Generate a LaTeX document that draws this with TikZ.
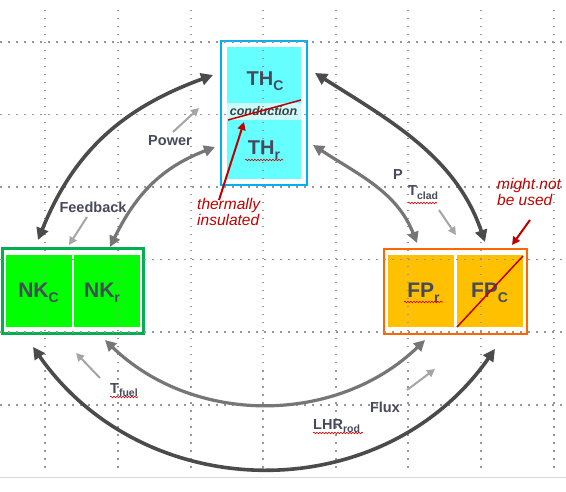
\documentclass[tikz,border=0pt]{standalone}
\usepackage{fontspec}
\setmainfont{Liberation Sans}
\usetikzlibrary{arrows.meta,decorations.pathmorphing}
\definecolor{thblue}{RGB}{0,176,240}
\definecolor{thcyan}{RGB}{102,255,255}
\definecolor{thband}{RGB}{205,252,252}
\definecolor{nkborder}{RGB}{0,176,80}
\definecolor{nkfill}{RGB}{0,255,0}
\definecolor{fpborder}{RGB}{255,102,0}
\definecolor{fpfill}{RGB}{255,192,0}
\definecolor{noteRed}{RGB}{192,0,0}
\definecolor{txt}{RGB}{70,74,90}
\definecolor{arrDark}{RGB}{75,75,75}
\definecolor{arrMid}{RGB}{118,118,118}
\definecolor{arrLight}{RGB}{165,165,165}
\definecolor{gridgray}{RGB}{150,150,150}
\newcommand{\bsub}[1]{\raisebox{-5pt}{\fontsize{14}{14}\selectfont #1}}
\newcommand{\ssub}[1]{\raisebox{-3.5pt}{\fontsize{10.5}{10.5}\selectfont #1}}
\begin{document}
\begin{tikzpicture}[x=1pt,y=-1pt,
  frame/.style={draw, line width=2.5pt, inner sep=0pt, fill=white},
  cell/.style={inner sep=0pt, draw=none},
  big/.style={inner sep=0pt, text=txt, font=\fontsize{21}{21}\selectfont\bfseries, anchor=base},
  lbl/.style={inner sep=0pt, text=txt, font=\fontsize{14.5}{16}\selectfont\bfseries},
  note/.style={inner sep=0pt, text=noteRed, font=\fontsize{15.5}{16}\selectfont\itshape, anchor=base west},
  gridline/.style={draw=gridgray, line width=1.5pt, dash pattern=on 1.5pt off 6.5pt},
  darkarr/.style={draw=arrDark, line width=3.6pt, {Triangle[length=12pt,width=12pt]}-{Triangle[length=12pt,width=12pt]}},
  midarr/.style={draw=arrMid, line width=3.2pt, {Triangle[length=11pt,width=11pt]}-{Triangle[length=11pt,width=11pt]}},
  lightarr/.style={draw=arrLight, line width=2pt, -{Triangle[length=8pt,width=8pt]}},
  redarr/.style={draw=noteRed, line width=2pt, -{Triangle[length=8pt,width=8pt]}},
  squig/.style={draw=red!85!black, line width=0.6pt, decorate, decoration={snake, amplitude=0.8pt, segment length=3pt}}
]
\useasboundingbox (0,0) rectangle (566,492);
\fill[white] (0,0) rectangle (566,492);

% ---------- boxes ----------
\node[frame, draw=thblue, minimum width=86pt, minimum height=144pt] (th) at (264,113) {};
\node[cell, fill=thcyan, minimum width=74pt, minimum height=56pt] (thc) at (264,75) {};
\node[cell, fill=thband, minimum width=74pt, minimum height=17pt] (thb) at (264,111.5) {};
\node[cell, fill=thcyan, minimum width=74pt, minimum height=59pt] (thr) at (264,149.5) {};

\node[frame, draw=nkborder, minimum width=141pt, minimum height=85pt] (nk) at (73,291) {};
\node[cell, fill=nkfill, minimum width=66pt, minimum height=72pt] (nkc) at (39,291) {};
\node[cell, fill=nkfill, minimum width=66pt, minimum height=72pt] (nkr) at (107,291) {};

\node[frame, draw=fpborder, minimum width=143pt, minimum height=85pt] (fp) at (455.5,291.5) {};
\node[cell, fill=fpfill, minimum width=66pt, minimum height=72pt] (fpr) at (421,291) {};
\node[cell, fill=fpfill, minimum width=66pt, minimum height=72pt] (fpc) at (490,291) {};

% ---------- grid ----------
\foreach \y in {42,114.5,187,259.5,332,405} \draw[gridline] (0,\y) -- (566,\y);
\foreach \x in {45,118,191,263,336,408,481,554} \draw[gridline] (\x,10) -- (\x,470);
\draw[draw={rgb,255:red,215;green,215;blue,215}, line width=1pt] (0,477) -- (566,477);

% ---------- box labels ----------
\node[big, font=\fontsize{20}{20}\selectfont\bfseries] (thcl) at (265,86) {TH\bsub{C}};
\node[big, font=\fontsize{20}{20}\selectfont\bfseries] (thrl) at (264,155) {TH\bsub{r}};
\node[inner sep=0pt, text={rgb,255:red,64;green,64;blue,64}, font=\fontsize{12.5}{12.5}\selectfont\bfseries\itshape, anchor=base] (cond) at (263.5,115.5) {conduction};
\node[big] (nkcl) at (38.5,298) {NK\bsub{C}};
\node[big] (nkrl) at (102,298) {NK\bsub{r}};
\node[big] (fprl) at (423.5,298) {FP\bsub{r}};
\node[big] (fpcl) at (489.5,298) {FP\bsub{C}};

% red strike lines
\coordinate (cs) at (228,120); \coordinate (ce) at (301,100);
\draw[noteRed, line width=1.5pt] (cs) -- (ce);
\coordinate (fs) at (457,327); \coordinate (fe) at (523,256);
\draw[noteRed, line width=1.5pt] (fs) -- (fe);

% ---------- big arcs ----------
\coordinate (tl1) at (213,75);  \coordinate (tl2) at (38,240);
\draw[darkarr] (tl1) .. controls (123,108) and (74,151) .. (tl2);
\coordinate (ml1) at (215,147); \coordinate (ml2) at (110,247);
\draw[midarr] (ml1) .. controls (160,168) and (135,196) .. (ml2);
\coordinate (tr1) at (315,73);  \coordinate (tr2) at (485,242);
\draw[darkarr] (tr1) .. controls (391,121) and (456,157) .. (tr2);
\coordinate (mr1) at (313,145); \coordinate (mr2) at (417,243);
\draw[midarr] (mr1) .. controls (359,175) and (397,192) .. (mr2);
\coordinate (bi1) at (105,340); \coordinate (bi2) at (425,340);
\draw[midarr] (bi1) .. controls (193.5,425.4) and (336.5,425.4) .. (bi2);
\coordinate (bo1) at (33,347);  \coordinate (bo2) at (495,349);
\draw[darkarr] (bo1) .. controls (145.4,507) and (382.6,509) .. (bo2);

% ---------- small arrows ----------
\coordinate (pw1) at (173,132); \coordinate (pw2) at (199,108);
\draw[lightarr] (pw1) -- (pw2);
\coordinate (fb1) at (87,217);  \coordinate (fb2) at (69,245);
\draw[lightarr] (fb1) -- (fb2);
\coordinate (tc1) at (439,210); \coordinate (tc2) at (456,235);
\draw[lightarr] (tc1) -- (tc2);
\coordinate (tf1) at (100,378); \coordinate (tf2) at (76,353);
\draw[lightarr] (tf1) -- (tf2);
\coordinate (fx1) at (407,390); \coordinate (fx2) at (435,369);
\draw[lightarr] (fx1) -- (fx2);
\coordinate (ti1) at (219,200); \coordinate (ti2) at (244,122);
\draw[redarr] (ti1) -- (ti2);
\coordinate (mn1) at (530,220); \coordinate (mn2) at (512,245);
\draw[redarr] (mn1) -- (mn2);

% ---------- labels ----------
\node[lbl] (power) at (170,141) {Power};
\node[lbl] (feedback) at (93,207) {Feedback};
\node[lbl] (plbl) at (398,175) {P};
\node[lbl, anchor=base west] (tclad) at (408,196) {T\ssub{clad}};
\node[lbl, anchor=base west] (tfuel) at (110,393) {T\ssub{fuel}};
\node[lbl] (flux) at (385,407) {Flux};
\node[lbl, anchor=base west] (lhr) at (313,429) {LHR\ssub{rod}};

\node[note] (therm) at (197,210) {thermally};
\node[note] (insul) at (197,226) {insulated};
\node[note] (might) at (497,190) {might not};
\node[note] (beused) at (497,206) {be used};

% ---------- spell-check squiggles ----------
\draw[squig] (245,160) -- (283,160);
\draw[squig] (404,302) -- (443,302);
\draw[squig] (408,203) -- (437,203);
\draw[squig] (110,397) -- (138,397);
\draw[squig] (313,433) -- (363,433);
\end{tikzpicture}
\end{document}
